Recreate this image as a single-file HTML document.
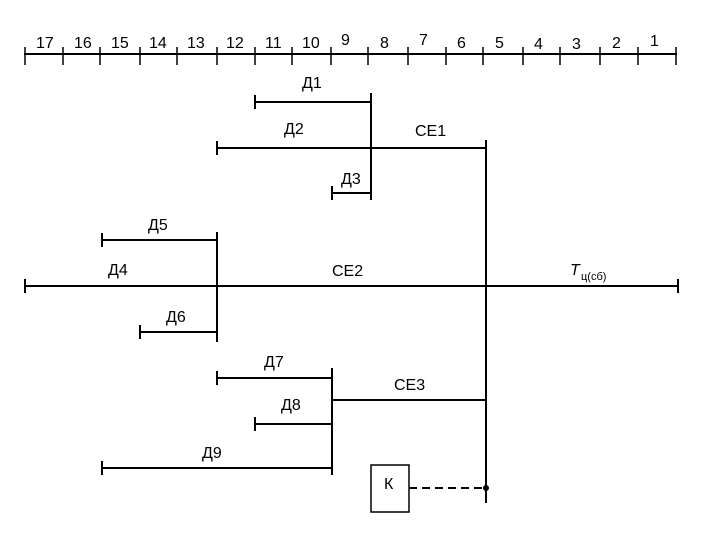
<!DOCTYPE html>
<html><head><meta charset="utf-8"><style>
body{margin:0;background:#fff}
svg text{font-family:"Liberation Sans",sans-serif;font-size:16px;fill:#000}
</style></head><body>
<svg width="720" height="540" xmlns="http://www.w3.org/2000/svg">
<g stroke="#000" stroke-width="2" fill="none">
<line x1="24" y1="54" x2="677" y2="54"/>
<g stroke-width="1.5">
<line x1="25" y1="47" x2="25" y2="65"/><line x1="63" y1="47" x2="63" y2="65"/><line x1="100" y1="47" x2="100" y2="65"/><line x1="140" y1="47" x2="140" y2="65"/><line x1="177" y1="47" x2="177" y2="65"/><line x1="217" y1="47" x2="217" y2="65"/><line x1="255" y1="47" x2="255" y2="65"/><line x1="292" y1="47" x2="292" y2="65"/><line x1="331" y1="47" x2="331" y2="65"/><line x1="368" y1="47" x2="368" y2="65"/><line x1="408" y1="47" x2="408" y2="65"/><line x1="446" y1="47" x2="446" y2="65"/><line x1="483" y1="47" x2="483" y2="65"/><line x1="523" y1="47" x2="523" y2="65"/><line x1="560" y1="47" x2="560" y2="65"/><line x1="600" y1="47" x2="600" y2="65"/><line x1="638" y1="47" x2="638" y2="65"/><line x1="676" y1="47" x2="676" y2="65"/>
</g>
<line x1="255" y1="102" x2="371" y2="102"/><line x1="255" y1="95" x2="255" y2="109"/>
<line x1="371" y1="93" x2="371" y2="200"/>
<line x1="217" y1="148" x2="486" y2="148"/><line x1="217" y1="141" x2="217" y2="155"/>
<line x1="332" y1="193" x2="371" y2="193"/><line x1="332" y1="186" x2="332" y2="200"/>
<line x1="217" y1="232" x2="217" y2="342"/>
<line x1="102" y1="240" x2="217" y2="240"/><line x1="102" y1="233" x2="102" y2="247"/>
<line x1="25" y1="286" x2="678" y2="286"/><line x1="25" y1="279" x2="25" y2="293"/><line x1="678" y1="279" x2="678" y2="293"/>
<line x1="140" y1="332" x2="217" y2="332"/><line x1="140" y1="325" x2="140" y2="339"/>
<line x1="332" y1="368" x2="332" y2="475"/>
<line x1="217" y1="378" x2="332" y2="378"/><line x1="217" y1="371" x2="217" y2="385"/>
<line x1="332" y1="400" x2="486" y2="400"/>
<line x1="255" y1="424" x2="332" y2="424"/><line x1="255" y1="417" x2="255" y2="431"/>
<line x1="102" y1="468" x2="332" y2="468"/><line x1="102" y1="461" x2="102" y2="475"/>
<line x1="486" y1="140" x2="486" y2="503"/>
<rect x="371" y="465" width="38" height="47" stroke-width="1.5"/>
<line x1="409" y1="488" x2="486" y2="488" stroke-dasharray="8,5"/>
</g>
<circle cx="486" cy="488" r="3" fill="#000"/>
<g>
<text x="36" y="48">17</text><text x="74" y="48">16</text><text x="111" y="48">15</text><text x="149" y="48">14</text><text x="187" y="48">13</text><text x="226" y="48">12</text><text x="265" y="48">11</text><text x="302" y="48">10</text><text x="341" y="45">9</text><text x="380" y="48">8</text><text x="419" y="45">7</text><text x="457" y="48">6</text><text x="495" y="48">5</text><text x="534" y="49">4</text><text x="572" y="49">3</text><text x="612" y="48">2</text><text x="650" y="46">1</text>
<text x="302" y="88">Д1</text><text x="284" y="134">Д2</text><text x="415" y="136">СЕ1</text><text x="341" y="184">Д3</text>
<text x="148" y="230">Д5</text><text x="108" y="275">Д4</text><text x="332" y="276">СЕ2</text>
<text x="570" y="275" font-style="italic">T</text><text x="581" y="280" style="font-size:11px">ц(сб)</text>
<text x="166" y="322">Д6</text><text x="264" y="367">Д7</text><text x="394" y="390">СЕ3</text><text x="281" y="410">Д8</text><text x="202" y="458">Д9</text>
<text x="384" y="489">К</text>
</g>
</svg>
</body></html>
